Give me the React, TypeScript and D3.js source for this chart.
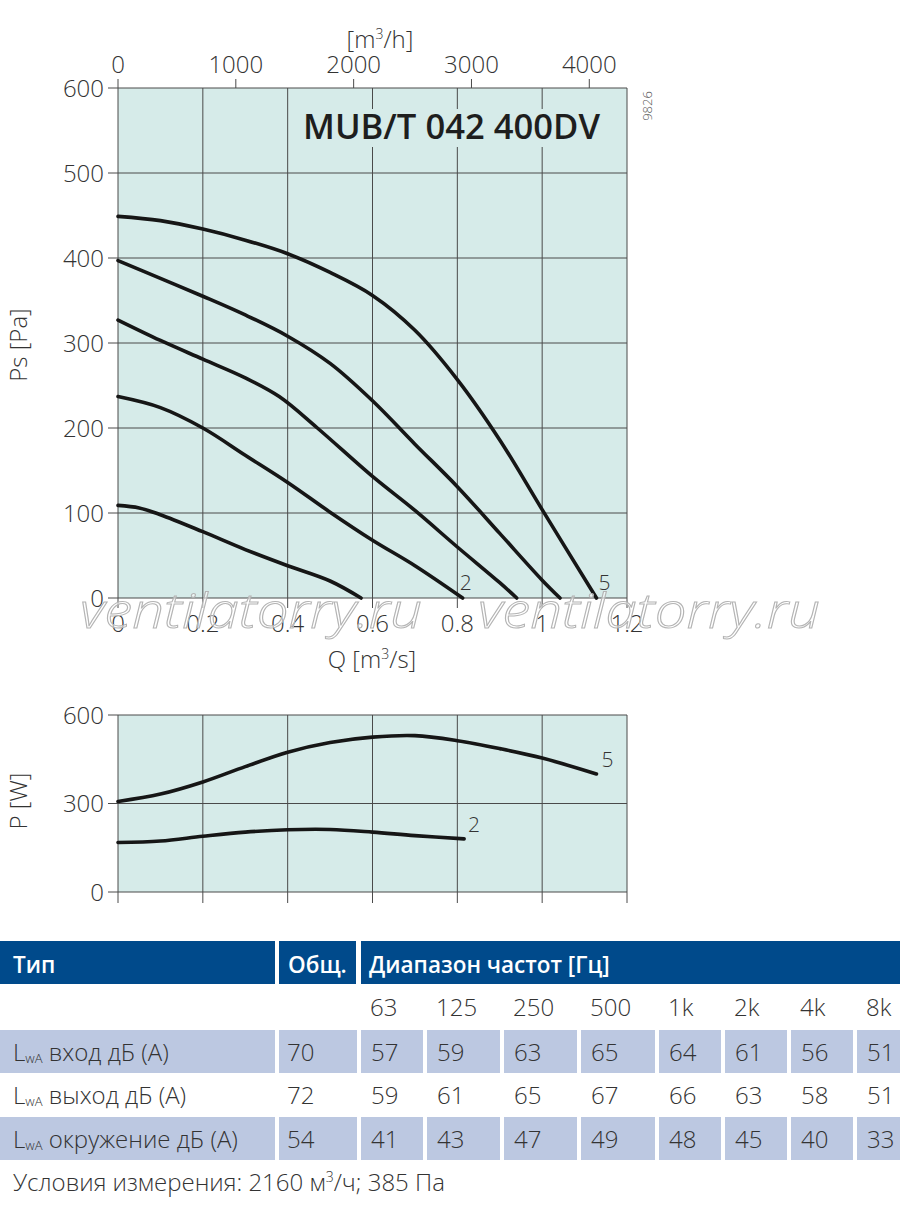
import React from "react";
import * as d3 from "d3";

// ---- chart data ----
const qTicks = [0, 0.2, 0.4, 0.6, 0.8, 1, 1.2];
const psTicks = [0, 100, 200, 300, 400, 500, 600];
const flowTicks = [0, 1000, 2000, 3000, 4000];
const powerTicks = [0, 300, 600];

// pressure curves (Q m3/s, Ps Pa), bottom to top
const q1 = [0, 0.05, 0.1, 0.2, 0.3, 0.4, 0.5, 0.573];
const ps1 = [109, 106, 98, 78, 57, 38, 20, 0];
const q2 = [0, 0.1, 0.2, 0.3, 0.4, 0.5, 0.6, 0.7, 0.8125];
const ps2 = [237, 224, 200, 168, 136, 101, 68, 38, 0];
const q3 = [0, 0.1, 0.2, 0.3, 0.38, 0.47, 0.6, 0.7, 0.8, 0.9, 0.94];
const ps3 = [327, 303, 281, 259, 237, 200, 143, 103, 60, 18, 0];
const q4 = [0, 0.1, 0.2, 0.3, 0.4, 0.5, 0.6, 0.7, 0.8, 0.9, 1.0, 1.042];
const ps4 = [397, 376, 355, 333, 308, 276, 232, 181, 131, 76, 21, 0];
const q5 = [0, 0.1, 0.2, 0.3, 0.4, 0.5, 0.6, 0.7, 0.8, 0.9, 1.0, 1.128];
const ps5 = [449, 444, 434, 421, 405, 383, 356, 315, 257, 186, 104, 0];

// power curves (Q m3/s, P W)
const qp2 = [0, 0.1, 0.2, 0.3, 0.4, 0.5, 0.6, 0.7, 0.816];
const pw2 = [168, 173, 189, 203, 211, 212, 203, 191, 180];
const qp5 = [0, 0.1, 0.2, 0.3, 0.4, 0.5, 0.6, 0.7, 0.8, 0.9, 1.0, 1.128];
const pw5 = [307, 332, 373, 425, 474, 507, 525, 530, 513, 486, 454, 400];

// sound table
const freqBands = ["63", "125", "250", "500", "1k", "2k", "4k", "8k"];
const rowLabels = ["вход дБ (А)", "выход дБ (А)", "окружение дБ (А)"];
const totals = [70, 72, 54];
const inletLevels = [57, 59, 63, 65, 64, 61, 56, 51];
const outletLevels = [59, 61, 65, 67, 66, 63, 58, 51];
const surroundLevels = [41, 43, 47, 49, 48, 45, 40, 33];

const W = 900;
const H = 1212;
const FONT = "'Open Sans', 'Noto Sans', sans-serif";
const TXT = "#333";
const PLOT_BG = "#d6ebe9";
const GRID = "#4a4a4a";
const BLUE = "#004a8b";
const ROW_BG = "#bcc8e1";

const zip = (xs: number[], ys: number[]) => xs.map((x, i) => [x, ys[i]] as [number, number]);

const App: React.FC = () => {
  const x = d3.scaleLinear().domain([0, 1.2]).range([118, 627]);
  const xFlow = d3.scaleLinear().domain([0, 1.2 * 3600]).range([118, 627]);
  const y = d3.scaleLinear().domain([0, 600]).range([598, 88]);
  const yP = d3.scaleLinear().domain([0, 600]).range([892, 715]);

  const line = d3
    .line<[number, number]>()
    .x((d) => x(d[0]))
    .y((d) => y(d[1]))
    .curve(d3.curveCatmullRom.alpha(0.5));
  const lineP = d3
    .line<[number, number]>()
    .x((d) => x(d[0]))
    .y((d) => yP(d[1]))
    .curve(d3.curveCatmullRom.alpha(0.5));

  const psCurves = [zip(q1, ps1), zip(q2, ps2), zip(q3, ps3), zip(q4, ps4), zip(q5, ps5)];
  const pCurves = [zip(qp2, pw2), zip(qp5, pw5)];

  // table layout
  const colEdges = [0, 279, 361, 427, 504, 581, 659, 725, 791, 857, 904];
  const gap = 4;
  const rows = [
    { top: 1030, bottom: 1073, shaded: true, values: inletLevels },
    { top: 1073, bottom: 1117, shaded: false, values: outletLevels },
    { top: 1117, bottom: 1160, shaded: true, values: surroundLevels },
  ];

  const tickLabel = {
    fontFamily: FONT,
    fontSize: 24,
    fontWeight: 300,
    fill: TXT,
  } as const;
  const head = { fontFamily: FONT, fontSize: 22.5, fontWeight: 600, fill: "#fff" } as const;

  return (
    <svg
      width={W}
      height={H}
      viewBox={`0 0 ${W} ${H}`}
      style={{ position: "absolute", left: 0, top: 0, background: "#fff" }}
    >
      {/* ---------- pressure chart ---------- */}
      <rect x={x(0)} y={y(600)} width={x(1.2) - x(0)} height={y(0) - y(600)} fill={PLOT_BG} />
      {qTicks.map((t) => (
        <line key={"vg" + t} x1={x(t)} x2={x(t)} y1={y(600)} y2={y(0) + 10} stroke={GRID} strokeWidth={1} />
      ))}
      {psTicks.map((t) => (
        <line key={"hg" + t} x1={x(0) - 10} x2={x(1.2)} y1={y(t)} y2={y(t)} stroke={GRID} strokeWidth={1} />
      ))}
      {/* title box hides the grid */}
      <rect x={295} y={109} width={317} height={38} fill={PLOT_BG} />
      <text
        x={303}
        y={139}
        textLength={297}
        lengthAdjust="spacingAndGlyphs"
        fontFamily={FONT}
        fontSize={35}
        fontWeight={600}
        fill="#1e1e1e"
      >
        MUB/T 042 400DV
      </text>
      <text
        transform="translate(652,106) rotate(-90)"
        textAnchor="middle"
        fontFamily={FONT}
        fontSize={13}
        fontWeight={300}
        fill="#555"
      >
        9826
      </text>

      {/* top axis m3/h */}
      {flowTicks.map((t) => (
        <g key={"ft" + t}>
          <line x1={xFlow(t)} x2={xFlow(t)} y1={y(600)} y2={y(600) - 9} stroke={GRID} />
          <text x={xFlow(t)} y={73} textAnchor="middle" {...tickLabel}>
            {t}
          </text>
        </g>
      ))}
      <text x={380} y={48} textAnchor="middle" {...tickLabel}>
        [m<tspan dy={-9} fontSize={14}>3</tspan>
        <tspan dy={9}>/h]</tspan>
      </text>

      {/* y labels */}
      {psTicks.map((t) => (
        <text key={"yl" + t} x={104} y={y(t) + 8.5} textAnchor="end" {...tickLabel}>
          {t}
        </text>
      ))}
      <text transform="translate(27,345) rotate(-90)" textAnchor="middle" {...tickLabel}>
        Ps [Pa]
      </text>

      {/* bottom labels */}
      {qTicks.map((t) => (
        <text key={"xl" + t} x={x(t)} y={632} textAnchor="middle" {...tickLabel}>
          {t}
        </text>
      ))}
      <text x={372} y={668} textAnchor="middle" {...tickLabel}>
        Q [m<tspan dy={-9} fontSize={14}>3</tspan>
        <tspan dy={9}>/s]</tspan>
      </text>

      {psCurves.map((c, i) => (
        <path key={"ps" + i} d={line(c) || ""} fill="none" stroke="#161616" strokeWidth={3.6} strokeLinecap="round" />
      ))}
      <text x={x(0.8125) - 3} y={590} {...tickLabel} fontSize={21}>
        2
      </text>
      <text x={x(1.128) + 2} y={590} {...tickLabel} fontSize={21}>
        5
      </text>

      {/* watermark */}
      {[80, 478].map((wx) => (
        <text
          key={"wm" + wx}
          x={wx}
          y={628}
          textLength={342}
          lengthAdjust="spacingAndGlyphs"
          fontFamily={FONT}
          fontSize={48}
          fontStyle="italic"
          fontWeight={300}
          fill="#ffffff"
          fillOpacity={0.55}
          stroke="#b4b4b4"
          strokeWidth={1}
        >
          ventilatorry.ru
        </text>
      ))}

      {/* ---------- power chart ---------- */}
      <rect x={x(0)} y={yP(600)} width={x(1.2) - x(0)} height={yP(0) - yP(600)} fill={PLOT_BG} />
      {qTicks.map((t) => (
        <line key={"pvg" + t} x1={x(t)} x2={x(t)} y1={yP(600)} y2={yP(0) + 11} stroke={GRID} />
      ))}
      {powerTicks.map((t) => (
        <g key={"pt" + t}>
          <line x1={x(0) - 10} x2={x(1.2)} y1={yP(t)} y2={yP(t)} stroke={GRID} />
          <text x={104} y={yP(t) + 8.5} textAnchor="end" {...tickLabel}>
            {t}
          </text>
        </g>
      ))}
      <text transform="translate(27,801) rotate(-90)" textAnchor="middle" {...tickLabel}>
        P [W]
      </text>
      {pCurves.map((c, i) => (
        <path key={"pw" + i} d={lineP(c) || ""} fill="none" stroke="#161616" strokeWidth={3.6} strokeLinecap="round" />
      ))}
      <text x={x(0.816) + 4} y={832} {...tickLabel} fontSize={21}>
        2
      </text>
      <text x={x(1.128) + 5} y={767} {...tickLabel} fontSize={21}>
        5
      </text>

      {/* ---------- sound table ---------- */}
      <rect x={0} y={941} width={275} height={43} fill={BLUE} />
      <rect x={279} y={941} width={77} height={43} fill={BLUE} />
      <rect x={361} y={941} width={W - 361} height={43} fill={BLUE} />
      <text x={13} y={973} {...head}>
        Тип
      </text>
      <text x={288} y={973} {...head}>
        Общ.
      </text>
      <text x={369} y={973} {...head}>
        Диапазон частот [Гц]
      </text>

      {freqBands.map((f, i) => (
        <text key={"fb" + f} x={colEdges[i + 2] + 9} y={1016} {...tickLabel}>
          {f}
        </text>
      ))}

      {rows.map((r, ri) => (
        <g key={"row" + ri}>
          {r.shaded &&
            colEdges.slice(0, -1).map((c0, ci) => (
              <rect
                key={"cell" + ci}
                x={c0}
                y={r.top}
                width={Math.min(colEdges[ci + 1] - gap, W) - c0}
                height={r.bottom - r.top}
                fill={ROW_BG}
              />
            ))}
          <text x={13} y={r.top + (r.bottom - r.top) / 2 + 9} {...tickLabel}>
            L<tspan fontSize={13} dy={2}>wA</tspan>
            <tspan dy={-2}> {rowLabels[ri]}</tspan>
          </text>
          <text x={287} y={r.top + (r.bottom - r.top) / 2 + 9} {...tickLabel}>
            {totals[ri]}
          </text>
          {r.values.map((v, vi) => (
            <text key={"v" + vi} x={colEdges[vi + 2] + 10} y={r.top + (r.bottom - r.top) / 2 + 9} {...tickLabel}>
              {v}
            </text>
          ))}
        </g>
      ))}

      <text x={13} y={1191} {...tickLabel}>
        Условия измерения: 2160 м<tspan dy={-9} fontSize={14}>3</tspan>
        <tspan dy={9}>/ч; 385 Па</tspan>
      </text>
    </svg>
  );
};

export default App;
